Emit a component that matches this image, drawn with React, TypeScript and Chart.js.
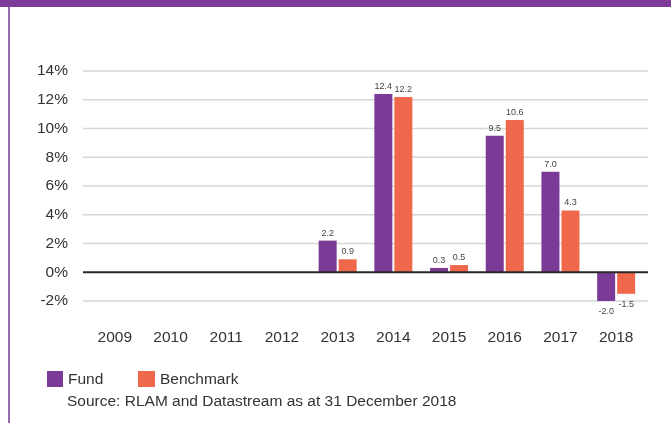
import React, { useEffect, useRef } from "react";
import { Chart, registerables } from "chart.js";

Chart.register(...registerables);

const years = ["2009", "2010", "2011", "2012", "2013", "2014", "2015", "2016", "2017", "2018"];
const fundValues = [null, null, null, null, 2.2, 12.4, 0.3, 9.5, 7.0, -2.0];
const benchmarkValues = [null, null, null, null, 0.9, 12.2, 0.5, 10.6, 4.3, -1.5];
const yMin = -2;
const yMax = 14;
const yStep = 2;
const seriesNames = ["Fund", "Benchmark"];
const sourceNote = "Source: RLAM and Datastream as at 31 December 2018";

const PURPLE = "#7B3A96";
const ORANGE = "#F0684B";
const TEXT = "#333333";
const FONT = "'Liberation Sans', Arial, Helvetica, sans-serif";

const gridPlugin = {
  id: "customGrid",
  beforeDatasetsDraw(chart: any) {
    const { ctx, chartArea, scales } = chart;
    const ys = scales.y;
    ctx.save();
    ys.ticks.forEach((t: any) => {
      if (t.value === 0) return;
      const y = ys.getPixelForValue(t.value);
      ctx.strokeStyle = "#d6d6d6";
      ctx.lineWidth = 1.5;
      ctx.beginPath();
      ctx.moveTo(chartArea.left - 4, y);
      ctx.lineTo(chartArea.right + 4, y);
      ctx.stroke();
    });
    ctx.restore();
  },
  afterDatasetsDraw(chart: any) {
    const { ctx, chartArea, scales } = chart;
    const ys = scales.y;
    ctx.save();
    const y0 = ys.getPixelForValue(0);
    ctx.strokeStyle = "#2a2a2a";
    ctx.lineWidth = 2;
    ctx.beginPath();
    ctx.moveTo(chartArea.left - 4, y0);
    ctx.lineTo(chartArea.right + 4, y0);
    ctx.stroke();
    ctx.font = `9px ${FONT}`;
    ctx.fillStyle = "#444444";
    ctx.textAlign = "center";
    ctx.textBaseline = "middle";
    chart.data.datasets.forEach((ds: any, di: number) => {
      const meta = chart.getDatasetMeta(di);
      meta.data.forEach((el: any, i: number) => {
        const v = ds.data[i];
        if (v === null || v === undefined) return;
        const y = v >= 0 ? el.y - 7.5 : el.y + 10.5;
        ctx.fillText(v.toFixed(1), el.x, y);
      });
    });
    ctx.restore();
  },
};

function ChartCanvas() {
  const ref = useRef<HTMLCanvasElement | null>(null);
  useEffect(() => {
    if (!ref.current) return;
    const chart = new Chart(ref.current, {
      type: "bar",
      data: {
        labels: years,
        datasets: [
          {
            label: seriesNames[0],
            data: fundValues,
            backgroundColor: PURPLE,
            categoryPercentage: 0.718,
            barPercentage: 0.9,
          },
          {
            label: seriesNames[1],
            data: benchmarkValues,
            backgroundColor: ORANGE,
            categoryPercentage: 0.718,
            barPercentage: 0.9,
          },
        ],
      },
      options: {
        animation: false,
        responsive: true,
        maintainAspectRatio: false,
        layout: { padding: { top: 71, right: 27, bottom: 62, left: 0 } },
        plugins: {
          legend: { display: false },
          tooltip: { enabled: false },
        },
        scales: {
          x: {
            grid: { display: false, drawTicks: false },
            border: { display: false },
            ticks: {
              color: TEXT,
              padding: 27,
              font: { family: FONT, size: 15.5 },
              maxRotation: 0,
            },
            afterFit(scale: any) {
              scale.height = 60;
            },
          },
          y: {
            min: yMin,
            max: yMax,
            grid: { display: false, drawTicks: false },
            border: { display: false },
            ticks: {
              stepSize: yStep,
              color: TEXT,
              padding: 19,
              font: { family: FONT, size: 15.5 },
              callback: (v: any) => `${v}%`,
            },
            afterFit(scale: any) {
              scale.width = 87;
            },
          },
        },
      },
      plugins: [gridPlugin],
    });
    return () => chart.destroy();
  }, []);
  return <canvas ref={ref} />;
}

export default function App() {
  const textStyle: React.CSSProperties = {
    position: "absolute",
    fontFamily: FONT,
    fontSize: 15.5,
    color: TEXT,
    lineHeight: "16px",
    whiteSpace: "nowrap",
  };
  return (
    <div
      style={{
        position: "absolute",
        left: 0,
        top: 0,
        width: 671,
        height: 423,
        background: "#ffffff",
        overflow: "hidden",
      }}
    >
      <div style={{ position: "absolute", left: 0, top: 0, width: 671, height: 7, background: "#7D3C98" }} />
      <div style={{ position: "absolute", left: 8, top: 7, width: 2, height: 416, background: "#9a6aaf" }} />
      <div style={{ position: "absolute", left: 0, top: 0, width: 671, height: 423 }}>
        <ChartCanvas />
      </div>
      <div style={{ position: "absolute", left: 47, top: 371, width: 16, height: 16, background: PURPLE }} />
      <div style={{ ...textStyle, left: 68, top: 371 }}>{seriesNames[0]}</div>
      <div style={{ position: "absolute", left: 138, top: 371, width: 17, height: 16, background: ORANGE }} />
      <div style={{ ...textStyle, left: 160, top: 371 }}>{seriesNames[1]}</div>
      <div style={{ ...textStyle, left: 67, top: 393 }}>{sourceNote}</div>
    </div>
  );
}
